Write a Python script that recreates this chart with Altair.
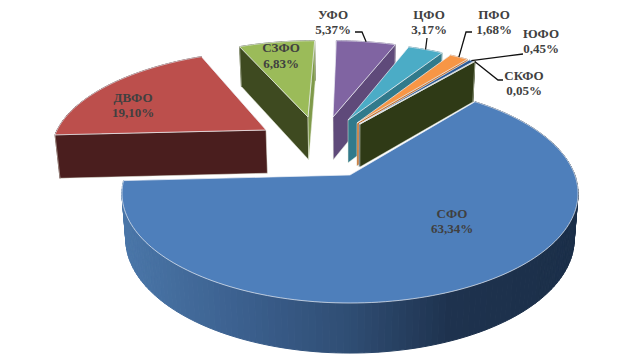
import math
import altair as alt

# ---- data ----
names = ["СФО", "ДВФО", "СЗФО", "УФО", "ЦФО", "ПФО", "ЮФО", "СКФО"]
shares = [63.34, 19.10, 6.83, 5.37, 3.17, 1.68, 0.45, 0.05]

# ---- styles ----
top_colors = ["#4e7fbb", "#bc4f4c", "#9bbb59", "#8064a2", "#4bacc6", "#f79646", "#2c5a94", "#5a6e2a"]
side_colors = ["#2f4d73", "#4a1e1e", "#3e4a20", "#5f4a7a", "#317a8c", "#c46a24", "#1f3f68", "#2f3a16"]
blue_side_stops = [(123, (74, 118, 168)), (250, (58, 94, 140)), (350, (47, 77, 115)),
                   (450, (30, 50, 78)), (578, (27, 47, 73))]

# ---- layout (screen pixels of the reference) ----
CX, A, B, R, P = 350.0, 175.0, 106.5, 224.8, 0.168
A2, B2, R2 = 220.0, 110.7, 221.0
ROT = -3.0
# where each wedge's tip sits on the screen
tips = {"СФО": (350, 175), "ДВФО": (266, 130), "СЗФО": (308, 117), "УФО": (333, 117),
        "ЦФО": (348, 120), "ПФО": (357, 123), "ЮФО": (359, 124), "СКФО": (360, 124)}
# centre x, first-line y, second-line y of each label
label_pos = {"СФО": (452, 214, 229), "ДВФО": (133, 98, 113), "СЗФО": (281, 48, 64), "УФО": (333, 15, 30),
             "ЦФО": (429, 15, 30), "ПФО": (494, 15, 30), "ЮФО": (541, 34, 49), "СКФО": (524, 76, 91)}
leaders = {"УФО": [(362, 32), (355, 32)], "ЦФО": [(427, 38)], "ПФО": [(466, 32), (472, 32)],
           "ЮФО": [(523, 54)], "СКФО": [(498, 80), (503, 80)]}
PAGE = 8


def top_xy(u, v):
    w = 1 - P * v
    return CX + R * u / w, A + B * v / w


def bot_xy(u, v):
    w = 1 - P * v
    return CX + R2 * u / w, A2 + B2 * v / w


def plane(x, y):
    r = (y - A) / B
    v = r / (1 + P * r)
    return (x - CX) / R * (1 - P * v), v


def lerp_color(x):
    s = blue_side_stops
    x = max(s[0][0], min(s[-1][0], x))
    for (x0, c0), (x1, c1) in zip(s, s[1:]):
        if x <= x1:
            t = (x - x0) / (x1 - x0)
            return "#%02x%02x%02x" % tuple(round(a + (b - a) * t) for a, b in zip(c0, c1))
    return "#1b2f49"


features = []
lines = []


def poly(points, fill, stroke=None, sw=1.0):
    ring = [[px - PAGE, py - PAGE] for px, py in points]
    ring.append(ring[0])
    features.append({"type": "Feature", "geometry": {"type": "Polygon", "coordinates": [ring]},
                     "properties": {"fill": fill, "stroke": stroke or fill, "sw": sw}})


total = sum(shares)
start0 = 270 + ROT - shares[0] / total * 360   # first wedge ends at the left
spans = {}
a = start0
for n, s in zip(names, shares):
    d = s / total * 360
    spans[n] = (a, a + d)
    a += d


def rim(n, ang):
    ou, ov = plane(*tips[n])
    t = math.radians(ang)
    return math.sin(t) + ou, -math.cos(t) + ov


def faces_viewer(tip, p, q):
    # the cut face under ray tip->p shows when the rest of the wedge (q) lies above that ray on screen
    (x0, y0), (x1, y1), (x2, y2) = top_xy(*tip), top_xy(*p), top_xy(*q)
    if abs(x1 - x0) < 1e-6:
        return False
    return y2 < y0 + (y1 - y0) * (x2 - x0) / (x1 - x0)


def wedge(n):
    i = names.index(n)
    a0, a1 = spans[n]
    tip = plane(*tips[n])
    steps = max(2, int((a1 - a0) / 1.5))
    angs = [a0 + (a1 - a0) * k / steps for k in range(steps + 1)]
    pts = [rim(n, t) for t in angs]
    for (p, q) in zip(pts, pts[1:]):
        quad = [top_xy(*p), top_xy(*q), bot_xy(*q), bot_xy(*p)]
        col = lerp_color((quad[0][0] + quad[1][0]) / 2) if n == "СФО" else side_colors[i]
        poly(quad, col)
    if n != "СФО":
        for p, q in ((pts[0], pts[-1]), (pts[-1], pts[0])):
            if faces_viewer(tip, p, q):
                col = "#7f9a4a" if n == "СЗФО" and p is pts[-1] else side_colors[i]
                poly([top_xy(*tip), top_xy(*p), bot_xy(*p), bot_xy(*tip)], col, "#e8ecdf", 0.5)
    poly([top_xy(*tip)] + [top_xy(*p) for p in pts], top_colors[i], "#eef1f6", 0.7)


for n in ["ДВФО", "СЗФО", "УФО", "ЦФО", "ПФО", "ЮФО", "СКФО", "СФО"]:
    wedge(n)

# leader lines start on the rim of their wedge
for n, tail in leaders.items():
    a0, a1 = spans[n]
    p = top_xy(*rim(n, (a0 + a1) / 2))
    path = [[px - PAGE, py - PAGE] for px, py in [p] + tail]
    lines.append({"type": "Feature", "geometry": {"type": "LineString", "coordinates": path},
                  "properties": {}})

shapes = alt.Chart(alt.InlineData(values={"type": "FeatureCollection", "features": features},
                                  format=alt.DataFormat(type="json", property="features"))).mark_geoshape().encode(
    color=alt.Color("properties.fill:N", scale=None),
    stroke=alt.Stroke("properties.stroke:N", scale=None),
    strokeWidth=alt.StrokeWidth("properties.sw:Q", scale=None),
).project(type="identity", scale=1, translate=[0, 0])

leader_layer = alt.Chart(alt.InlineData(values={"type": "FeatureCollection", "features": lines},
                                        format=alt.DataFormat(type="json", property="features"))).mark_geoshape(
    filled=False, stroke="#111111", strokeWidth=1.3
).project(type="identity", scale=1, translate=[0, 0])

rows = []
for n, s in zip(names, shares):
    x, y1, y2 = label_pos[n]
    rows.append({"t": n, "x": x - PAGE, "y": y1 - PAGE})
    rows.append({"t": f"{s:.2f}".replace(".", ",") + "%", "x": x - PAGE, "y": y2 - PAGE})
labels = alt.Chart(alt.Data(values=rows)).mark_text(
    font="Liberation Serif", fontSize=13, fontWeight="bold", color="#404040",
    align="center", baseline="middle"
).encode(x=alt.X("x:Q", scale=None), y=alt.Y("y:Q", scale=None), text="t:N")

chart = alt.layer(shapes, leader_layer, labels).properties(
    width=627, height=347, padding=0, background="white",
    autosize=alt.AutoSizeParams(type="none")
).configure_view(stroke=None)
chart.save("out.html", embed_options={"renderer": "svg", "actions": False})
